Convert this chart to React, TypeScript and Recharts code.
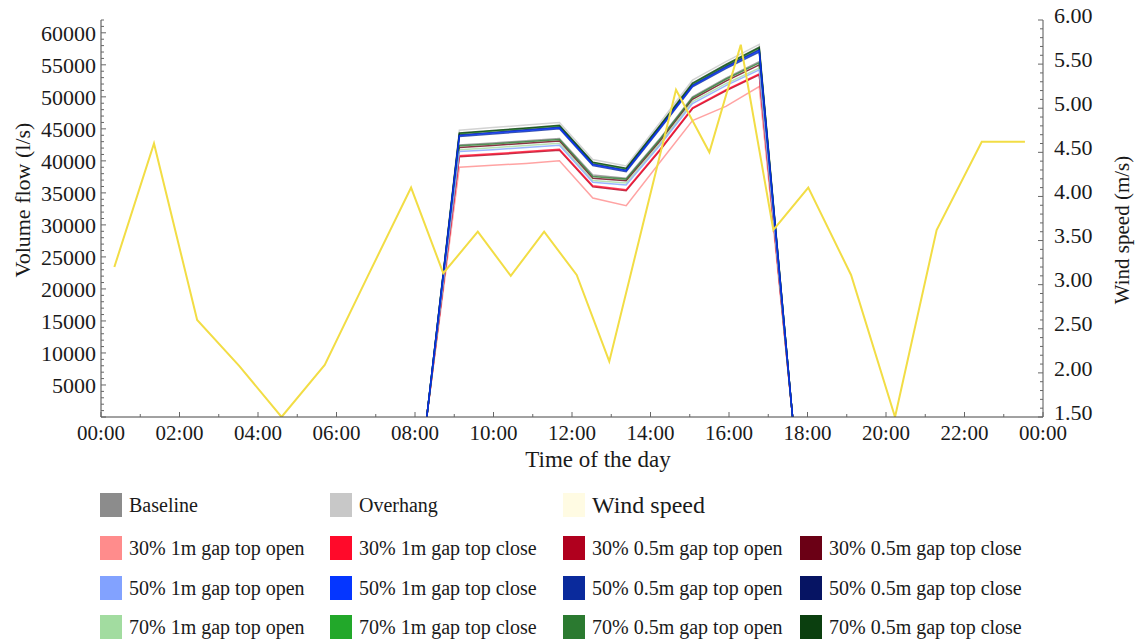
import React from "react";
import { LineChart, Line, XAxis, YAxis } from "recharts";

const FONT = '"Liberation Serif", "Times New Roman", serif';

// decimal hour of each logged volume flow value
const FLOW_HOURS = [8.3, 9.13, 9.98, 10.83, 11.68, 12.53, 13.38, 14.23, 15.07, 15.92, 16.77, 17.62];

const baseline = [0, 42500, 42800, 43150, 43500, 37800, 37300, 43400, 50000, 52900, 55500, 0];
const overhang = [0, 44800, 45200, 45600, 46000, 40200, 39200, 45900, 52600, 55500, 58200, 0];
const p30_1m_open = [0, 39000, 39300, 39600, 40000, 34200, 33000, 39700, 46300, 48500, 51600, 0];
const p30_1m_close = [0, 40800, 41100, 41450, 41800, 36100, 35500, 41700, 48300, 51100, 53600, 0];
const p30_05m_open = [0, 40650, 40950, 41300, 41650, 35950, 35350, 41550, 48150, 50950, 53450, 0];
const p30_05m_close = [0, 42100, 42400, 42750, 43100, 37300, 36900, 43000, 49600, 52450, 55000, 0];
const p50_1m_open = [0, 41450, 41750, 42100, 42450, 36650, 36250, 42350, 48950, 51750, 54200, 0];
const p50_1m_close = [0, 43950, 44350, 44750, 45150, 39400, 38450, 45050, 51700, 54550, 57200, 0];
const p50_05m_open = [0, 43800, 44200, 44600, 45000, 39250, 38300, 44900, 51550, 54400, 57000, 0];
const p50_05m_close = [0, 44050, 44450, 44850, 45250, 39500, 38550, 45150, 51800, 54700, 57350, 0];
const p70_1m_open = [0, 41750, 42050, 42400, 42750, 36950, 36550, 42650, 49250, 52050, 54500, 0];
const p70_1m_close = [0, 44250, 44650, 45050, 45450, 39700, 38750, 45350, 52000, 54900, 57600, 0];
const p70_05m_open = [0, 42350, 42650, 43000, 43350, 37550, 37150, 43250, 49850, 52750, 55300, 0];
const p70_05m_close = [0, 44350, 44750, 45150, 45550, 39800, 38850, 45450, 52150, 55050, 57750, 0];

// wind speed readings (m/s)
const WIND_HOURS = [0.34, 1.35, 2.45, 3.52, 4.6, 5.7, 6.8, 7.9, 8.72, 9.6, 10.44, 11.29, 12.12, 12.95, 13.8, 14.65, 15.5, 16.3, 17.13, 18.02, 19.11, 20.23, 21.29, 22.44, 23.54];
const WIND_SPEED = [3.2, 4.6, 2.6, 2.08, 1.5, 2.09, 3.1, 4.1, 3.13, 3.6, 3.1, 3.6, 3.11, 2.13, 3.67, 5.21, 4.5, 5.72, 3.62, 4.1, 3.11, 1.5, 3.62, 4.62, 4.62];

const HOUR_TICKS = [0, 1, 2, 3, 4, 5, 6, 7, 8, 9, 10, 11, 12, 13, 14, 15, 16, 17, 18, 19, 20, 21, 22, 23, 24];
const FLOW_TICKS = Array.from({ length: 63 }, (_, i) => i * 1000); // minor every 1000, label every 5000
const WIND_TICKS = Array.from({ length: 46 }, (_, i) => (15 + i) / 10); // minor every 0.1, label every 0.5

const SERIES = [
  { key: "baseline", name: "Baseline", color: "#8c8c8c", values: baseline },
  { key: "overhang", name: "Overhang", color: "#c8c8c8", values: overhang },
  { key: "p30_1m_open", name: "30% 1m gap top open", color: "#ff8c8c", values: p30_1m_open },
  { key: "p30_1m_close", name: "30% 1m gap top close", color: "#ff0a2a", values: p30_1m_close },
  { key: "p30_05m_open", name: "30% 0.5m gap top open", color: "#b0001e", values: p30_05m_open },
  { key: "p30_05m_close", name: "30% 0.5m gap top close", color: "#6b0015", values: p30_05m_close },
  { key: "p50_1m_open", name: "50% 1m gap top open", color: "#82a2ff", values: p50_1m_open },
  { key: "p50_1m_close", name: "50% 1m gap top close", color: "#0536ff", values: p50_1m_close },
  { key: "p50_05m_open", name: "50% 0.5m gap top open", color: "#0a2a9c", values: p50_05m_open },
  { key: "p50_05m_close", name: "50% 0.5m gap top close", color: "#061463", values: p50_05m_close },
  { key: "p70_1m_open", name: "70% 1m gap top open", color: "#a2dca0", values: p70_1m_open },
  { key: "p70_1m_close", name: "70% 1m gap top close", color: "#22a82a", values: p70_1m_close },
  { key: "p70_05m_open", name: "70% 0.5m gap top open", color: "#2b7a30", values: p70_05m_open },
  { key: "p70_05m_close", name: "70% 0.5m gap top close", color: "#0b3f0f", values: p70_05m_close },
];

// blues end up on top, like the reference
const DRAW_ORDER = [
  "overhang", "baseline", "p30_1m_open", "p30_05m_open", "p30_1m_close", "p30_05m_close",
  "p70_1m_open", "p70_05m_open", "p70_1m_close", "p70_05m_close",
  "p50_1m_open", "p50_05m_open", "p50_05m_close", "p50_1m_close",
];

const WIND_COLOR = "#f2dd45";

const flowData = FLOW_HOURS.map((hour, i) => {
  const row: Record<string, number> = { hour };
  SERIES.forEach((s) => (row[s.key] = s.values[i]));
  return row;
});
const windData = WIND_HOURS.map((hour, i) => ({ hour, wind: WIND_SPEED[i] }));

const fmtHour = (h: number) => `${String(h % 24).padStart(2, "0")}:00`;

const HourTick = (props: any) => {
  const { x, y, payload } = props;
  const h = payload.value;
  const major = h % 2 === 0;
  return (
    <g>
      <line x1={x} x2={x} y1={y} y2={y - (major ? 5 : 3)} stroke="#666" />
      {major && (
        <text x={x} y={y + 23} textAnchor="middle" fontSize={21} fill="#1a1a1a" fontFamily={FONT}>
          {fmtHour(h)}
        </text>
      )}
    </g>
  );
};

const FlowTick = (props: any) => {
  const { x, y, payload } = props;
  const v = payload.value;
  const major = v % 5000 === 0;
  return (
    <g>
      <line x1={x} x2={x + (major ? 5 : 3)} y1={y} y2={y} stroke="#666" />
      {major && v > 0 && (
        <text x={x - 5} y={y} dy="0.35em" textAnchor="end" fontSize={22} fill="#1a1a1a" fontFamily={FONT}>
          {v}
        </text>
      )}
    </g>
  );
};

const WindTick = (props: any) => {
  const { x, y, payload } = props;
  const v = payload.value;
  const major = Math.abs(v * 2 - Math.round(v * 2)) < 1e-6;
  return (
    <g>
      <line x1={x} x2={x - (major ? 5 : 3)} y1={y} y2={y} stroke="#666" />
      {major && (
        <text x={x + 11} y={y - 5} dy="0.35em" textAnchor="start" fontSize={22} fill="#1a1a1a" fontFamily={FONT}>
          {v.toFixed(2)}
        </text>
      )}
    </g>
  );
};

const XTitle = () => (
  <text x={598} y={467} textAnchor="middle" fontSize={23} fill="#1a1a1a" fontFamily={FONT}>
    Time of the day
  </text>
);
const FlowTitle = () => (
  <text x={22} y={200} transform="rotate(-90 22 200)" dy="0.35em" textAnchor="middle" fontSize={22} fill="#1a1a1a" fontFamily={FONT}>
    Volume flow (l/s)
  </text>
);
const WindTitle = () => (
  <text x={1122} y={230} transform="rotate(-90 1122 230)" dy="0.35em" textAnchor="middle" fontSize={21} fill="#1a1a1a" fontFamily={FONT}>
    Wind speed (m/s)
  </text>
);

const LEGEND_COLS = [100, 330, 563, 800];
const LEGEND_ROWS_Y = [505, 548, 588, 627];
const LEGEND_TOP = ["baseline", "overhang", "wind"];
const LEGEND_GRID = [
  ["p30_1m_open", "p30_1m_close", "p30_05m_open", "p30_05m_close"],
  ["p50_1m_open", "p50_1m_close", "p50_05m_open", "p50_05m_close"],
  ["p70_1m_open", "p70_1m_close", "p70_05m_open", "p70_05m_close"],
];

const LegendItem = ({ left, cy, color, label, size = 20 }: any) => (
  <div style={{ position: "absolute", left, top: cy - 13, height: 26, display: "flex", alignItems: "center", whiteSpace: "nowrap" }}>
    <div style={{ width: 22, height: 24, background: color, marginRight: 7 }} />
    <span style={{ fontSize: size, color: "#1a1a1a", lineHeight: "26px" }}>{label}</span>
  </div>
);

export default function App() {
  const byKey = (k: string) => SERIES.find((s) => s.key === k)!;
  return (
    <div style={{ position: "absolute", left: 0, top: 0, width: 1138, height: 640, background: "#fff", fontFamily: FONT }}>
      <LineChart width={1138} height={480} margin={{ top: 20, right: 0, bottom: 0, left: 0 }}>
        <XAxis
          type="number"
          dataKey="hour"
          domain={[0, 24]}
          ticks={HOUR_TICKS}
          interval={0}
          height={63}
          tickSize={0}
          tickMargin={0}
          tickLine={false}
          tick={HourTick}
          axisLine={{ stroke: "#444" }}
          label={XTitle}
          allowDataOverflow
        />
        <YAxis
          yAxisId="flow"
          type="number"
          domain={[0, 62000]}
          ticks={FLOW_TICKS}
          interval={0}
          width={101}
          tickSize={0}
          tickMargin={0}
          tickLine={false}
          tick={FlowTick}
          axisLine={{ stroke: "#444" }}
          label={FlowTitle}
          allowDataOverflow
        />
        <YAxis
          yAxisId="wind"
          orientation="right"
          type="number"
          domain={[1.5, 6]}
          ticks={WIND_TICKS}
          interval={0}
          width={95}
          tickSize={0}
          tickMargin={0}
          tickLine={false}
          tick={WindTick}
          axisLine={{ stroke: "#555" }}
          label={WindTitle}
          allowDataOverflow
        />
        {DRAW_ORDER.map((k) => {
          const s = byKey(k);
          return (
            <Line
              key={k}
              data={flowData}
              dataKey={k}
              name={s.name}
              yAxisId="flow"
              type="linear"
              stroke={s.color}
              strokeWidth={1.5}
              strokeOpacity={0.8}
              dot={false}
              activeDot={false}
              isAnimationActive={false}
            />
          );
        })}
        <Line
          data={windData}
          dataKey="wind"
          name="Wind speed"
          yAxisId="wind"
          type="linear"
          stroke={WIND_COLOR}
          strokeWidth={2}
          dot={false}
          activeDot={false}
          isAnimationActive={false}
        />
      </LineChart>

      {LEGEND_TOP.map((k, i) => {
        const left = LEGEND_COLS[i];
        if (k === "wind") {
          return <LegendItem key={k} left={left} cy={LEGEND_ROWS_Y[0]} color="#fffbe3" label="Wind speed" size={24} />;
        }
        const s = byKey(k);
        return <LegendItem key={k} left={left} cy={LEGEND_ROWS_Y[0]} color={s.color} label={s.name} />;
      })}
      {LEGEND_GRID.map((row, r) =>
        row.map((k, c) => {
          const s = byKey(k);
          return <LegendItem key={k} left={LEGEND_COLS[c]} cy={LEGEND_ROWS_Y[r + 1]} color={s.color} label={s.name} />;
        })
      )}
    </div>
  );
}
